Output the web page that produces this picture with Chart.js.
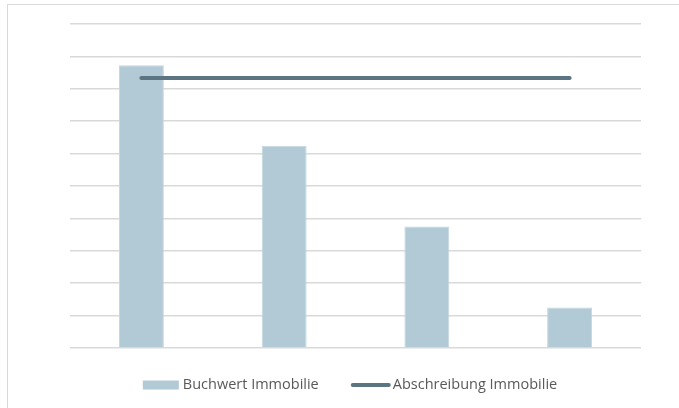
<!DOCTYPE html>
<html>
<head>
<meta charset="utf-8">
<script src="https://cdn.jsdelivr.net/npm/chart.js@4/dist/chart.umd.min.js"></script>
<style>
    html, body { margin: 0; padding: 0; background: #fff; overflow: hidden; }
    #wrap { position: relative; width: 679px; height: 408px; }
    #frame { position: absolute; left: 7px; top: 4px; width: 800px; height: 500px; border: 1.5px solid #d9d9d9; box-sizing: border-box; }
    canvas { position: absolute; left: 0; top: 0; }
</style>
</head>
<body>
<div id="wrap">
    <div id="frame"></div>
    <canvas id="chart" width="679" height="408"></canvas>
</div>
<script>
const categories = ["Jahr 1", "Jahr 2", "Jahr 3", "Jahr 4"];
const buchwert = [8.73, 6.24, 3.75, 1.25];
const abschreibung = [8.33, 8.33, 8.33, 8.33];

const barColor = "#b2c9d6";
const lineColor = "#5b7582";

// legend drawn below the plot, like the office chart it copies
const bottomLegend = {
    id: "bottomLegend",
    afterDraw(chart) {
        const ctx = chart.ctx;
        ctx.save();
        ctx.font = "14.5px 'Open Sans'";
        ctx.textBaseline = "middle";
        const bar = chart.data.datasets[0];
        const line = chart.data.datasets[1];
        const w0 = ctx.measureText(bar.label).width;
        const w1 = ctx.measureText(line.label).width;
        const total = 36 + 4 + w0 + 32 + 40 + 2 + w1;
        let x = 350 - total / 2;
        const y = 385;
        ctx.fillStyle = bar.backgroundColor;
        ctx.fillRect(x, y - 4.5, 36, 9);
        x += 40;
        ctx.fillStyle = "#595959";
        ctx.fillText(bar.label, x, y);
        x += w0 + 32;
        ctx.strokeStyle = line.borderColor;
        ctx.lineWidth = 4;
        ctx.lineCap = "round";
        ctx.beginPath();
        ctx.moveTo(x + 2, y);
        ctx.lineTo(x + 38, y);
        ctx.stroke();
        x += 42;
        ctx.fillText(line.label, x, y);
        ctx.restore();
    },
};

new Chart(document.getElementById("chart"), {
    data: {
        labels: categories,
        datasets: [
            {
                type: "bar",
                label: "Buchwert Immobilie",
                data: buchwert,
                backgroundColor: barColor,
                borderColor: "#c4d6e0",
                borderWidth: 1,
                categoryPercentage: 1,
                barPercentage: 0.315,
                order: 1,
            },
            {
                type: "line",
                label: "Abschreibung Immobilie",
                data: abschreibung,
                borderColor: lineColor,
                borderWidth: 4,
                borderCapStyle: "round",
                pointRadius: 0,
                order: 0,
            },
        ],
    },
    plugins: [bottomLegend],
    options: {
        responsive: false,
        animation: false,
        layout: { padding: { left: 70, right: 38, top: 24, bottom: 60 } },
        plugins: {
            legend: { display: false },
            tooltip: { enabled: false },
        },
        scales: {
            x: { display: false },
            y: {
                min: 0,
                max: 10,
                ticks: { display: false, stepSize: 1 },
                border: { display: false },
                grid: { color: "#d9d9d9", lineWidth: 1.5, drawTicks: false },
            },
        },
    },
});
</script>
</body>
</html>
